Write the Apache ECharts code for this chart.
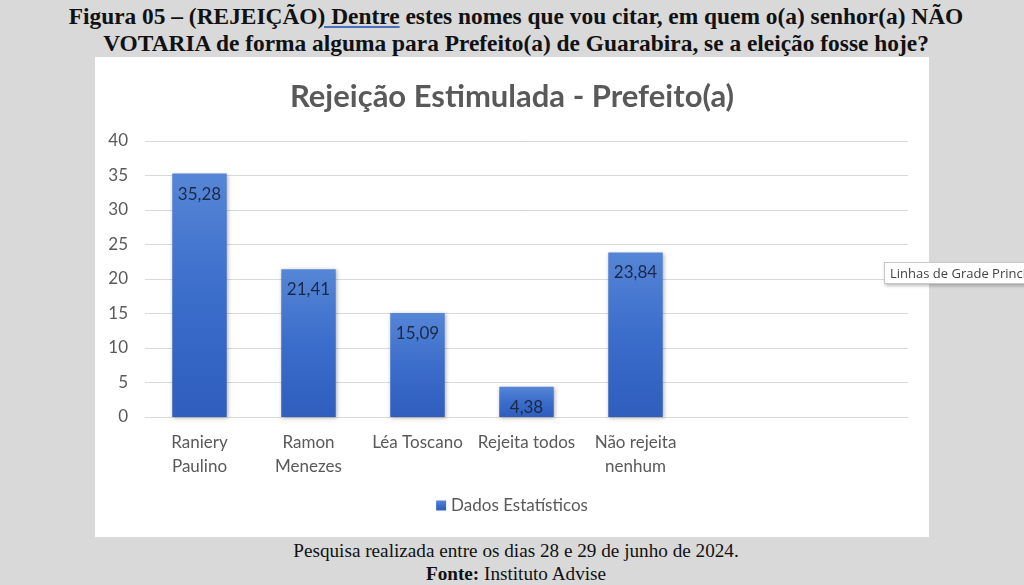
<!DOCTYPE html>
<html>
<head>
<meta charset="utf-8">
<script src="https://cdn.jsdelivr.net/npm/echarts@6/dist/echarts.min.js"></script>
<style>
  html, body { margin: 0; padding: 0; }
  body { width: 1024px; height: 585px; background: #d9d9d9; position: relative; overflow: hidden; font-family: "Liberation Serif", serif; color: #111; }
  .cap { position: absolute; left: 0; width: 1032px; text-align: center; white-space: nowrap; }
  #head { top: 3px; font-size: 23.4px; font-weight: bold; line-height: 27px; }
  #head .sp { text-decoration: underline; text-decoration-color: #4a6fbf; }
  #foot1 { top: 539px; font-size: 19.2px; line-height: 23px; }
  #foot2 { top: 562px; font-size: 19.2px; line-height: 23px; }
  #chart { position: absolute; left: 95px; top: 57px; width: 834px; height: 480px; background: #fff; }
  #tip { position: absolute; left: 884px; top: 262px; height: 20px; padding: 0 5px; background: #fff; border: 1px solid #c8c8c8; box-shadow: 1px 2px 3px rgba(0,0,0,0.25); font-family: "Open Sans", sans-serif; font-size: 13px; line-height: 20px; color: #444; white-space: nowrap; }
</style>
</head>
<body>
<div class="cap" id="head">Figura 05 – (REJEIÇÃO<span class="sp">) Dentre</span> estes nomes que vou citar, em quem o(a) senhor(a) NÃO<br>VOTARIA de forma alguma para Prefeito(a) de Guarabira, se a eleição fosse hoje?</div>
<div id="chart"></div>
<div id="tip">Linhas de Grade Principais</div>
<div class="cap" id="foot1">Pesquisa realizada entre os dias 28 e 29 de junho de 2024.</div>
<div class="cap" id="foot2"><b>Fonte:</b> Instituto Advise</div>

<script type="text/javascript">
	var chartTitle = 'Rejeição Estimulada - Prefeito(a)';
	var seriesName = 'Dados Estatísticos';
	var categories = ['Raniery\nPaulino', 'Ramon\nMenezes', 'Léa Toscano', 'Rejeita todos', 'Não rejeita\nnenhum', '', ''];
	var values = [35.28, 21.41, 15.09, 4.38, 23.84, '-', '-'];

	var myChart = echarts.init(document.getElementById('chart'));
	myChart.setOption({
		animation: false,
		title: {
			text: chartTitle,
			left: 'center',
			top: 19,
			textStyle: { fontFamily: 'Lato', fontSize: 31, fontWeight: 'bold', color: '#595959' }
		},
		legend: {
			data: [seriesName],
			bottom: 18,
			left: 'center',
			icon: 'rect',
			itemWidth: 10,
			itemHeight: 10,
			itemGap: 6,
			textStyle: { fontFamily: 'Lato', fontSize: 17, color: '#595959' }
		},
		grid: { left: 50, right: 21, top: 84, bottom: 120, containLabel: false },
		xAxis: {
			type: 'category',
			data: categories,
			axisTick: { show: false },
			axisLine: { lineStyle: { color: '#d9d9d9' } },
			axisLabel: { interval: 0, margin: 14, fontFamily: 'Lato', fontSize: 17, lineHeight: 24, color: '#595959' }
		},
		yAxis: {
			type: 'value',
			min: 0,
			max: 40,
			interval: 5,
			axisLine: { show: false },
			axisTick: { show: false },
			axisLabel: { margin: 17, fontFamily: 'Lato', fontSize: 17, color: '#595959' },
			splitLine: { lineStyle: { color: '#d9d9d9', width: 1 } }
		},
		series: [{
			name: seriesName,
			type: 'bar',
			data: values,
			barWidth: '50%',
			itemStyle: {
				color: new echarts.graphic.LinearGradient(0, 0, 0, 1, [
					{ offset: 0, color: '#5686d6' },
					{ offset: 0.5, color: '#3b6dcb' },
					{ offset: 1, color: '#2f5ebd' }
				]),
				shadowBlur: 4,
				shadowOffsetX: 1,
				shadowOffsetY: 1,
				shadowColor: 'rgba(0,0,0,0.3)'
			},
			label: {
				show: true,
				position: 'insideTop',
				distance: 12,
				fontFamily: 'Lato',
				fontSize: 17,
				color: '#1c2946',
				formatter: function (p) { return String(p.value).replace('.', ','); }
			}
		}]
	});
</script>
</body>
</html>
